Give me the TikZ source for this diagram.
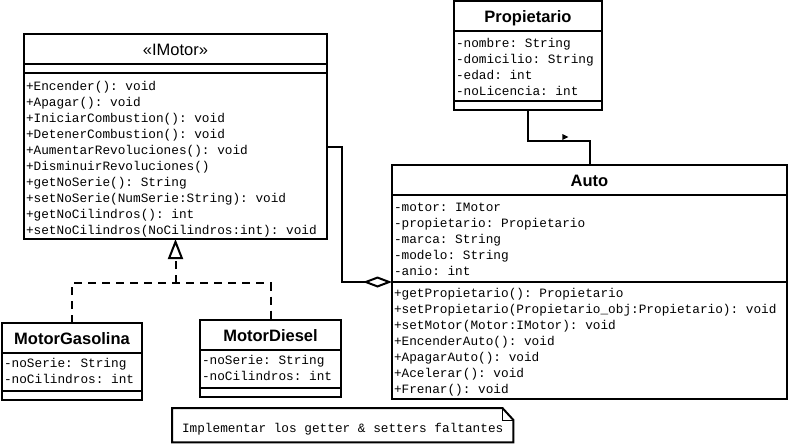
\documentclass[tikz,border=0pt]{standalone}
\usepackage{fontspec}
\setsansfont{Liberation Sans}
\setmonofont{Liberation Mono}
\usetikzlibrary{
  arrows.meta,
  calc,
  positioning,
  shapes.multipart
}
% compartments of a class box
\newcommand{\umlhead}[2]{\parbox[c][28pt][t]{#1}{\centering\sffamily\fontsize{16.5pt}{18pt}\selectfont\rule{0pt}{20.5pt}#2}}
\newcommand{\umlbody}[4][15pt]{\parbox[c][#3][t]{#2}{\ttfamily\fontsize{12.75pt}{16pt}\selectfont\raggedright\leftskip=2pt\rule{0pt}{#1}#4}}
\newcommand{\umlempty}[1]{\parbox[c][7pt]{#1}{\mbox{}}}

\begin{document}
\begin{tikzpicture}[x=1pt, y=-1pt,
  umlclass/.style={draw, line width=2pt, rectangle split, rectangle split parts=3,
               inner sep=0pt, outer sep=0pt, anchor=north west, fill=white},
  link/.style={line width=2pt},
  realize/.style={line width=2pt, dash pattern=on 8pt off 6pt},
  notetext/.style={inner sep=0pt, anchor=north west, minimum width=341pt, minimum height=34pt,
               text height=14pt, text depth=0pt, font=\ttfamily\fontsize{12.75pt}{16pt}\selectfont},
  notebox/.style={line width=2pt}
]
  \fill[white, use as bounding box] (0,0) rectangle (791,445);

  \node[umlclass] (imotor) at (24,34) {\umlhead{303pt}{«IMotor»}
    \nodepart{two}\umlempty{303pt}
    \nodepart{three}\umlbody[16pt]{303pt}{164pt}{+Encender(): void\\
      +Apagar(): void\\
      +IniciarCombustion(): void\\
      +DetenerCombustion(): void\\
      +AumentarRevoluciones(): void\\
      +DisminuirRevoluciones()\\
      +getNoSerie(): String\\
      +setNoSerie(NumSerie:String): void\\
      +getNoCilindros(): int\\
      +setNoCilindros(NoCilindros:int): void}};

  \node[umlclass] (propietario) at (454,1) {\umlhead{148pt}{\bfseries Propietario}
    \nodepart{two}\umlbody{148pt}{68pt}{-nombre: String\\
      -domicilio: String\\
      -edad: int\\
      -noLicencia: int}
    \nodepart{three}\umlempty{148pt}};

  \node[umlclass] (auto) at (392,165) {\umlhead{395pt}{\bfseries Auto}
    \nodepart{two}\umlbody[15.5pt]{395pt}{85pt}{-motor: IMotor\\
      -propietario: Propietario\\
      -marca: String\\
      -modelo: String\\
      -anio: int}
    \nodepart{three}\umlbody[14pt]{395pt}{115pt}{+getPropietario(): Propietario\\
      +setPropietario(Propietario\_obj:Propietario): void\\
      +setMotor(Motor:IMotor): void\\
      +EncenderAuto(): void\\
      +ApagarAuto(): void\\
      +Acelerar(): void\\
      +Frenar(): void}};

  \node[umlclass] (motorgasolina) at (2,323) {\umlhead{140pt}{\bfseries MotorGasolina}
    \nodepart{two}\umlbody[13.5pt]{140pt}{36pt}{-noSerie: String\\
      -noCilindros: int}
    \nodepart{three}\umlempty{140pt}};

  \node[umlclass] (motordiesel) at (200,320) {\umlhead{141pt}{\bfseries MotorDiesel}
    \nodepart{two}\umlbody[13.5pt]{141pt}{36pt}{-noSerie: String\\
      -noCilindros: int}
    \nodepart{three}\umlempty{141pt}};

  \node[notetext] (note) at (172,408) {Implementar los getter \& setters faltantes};

  % aggregation IMotor -- Auto
  \draw[link, -{Diamond[open, length=29pt, width=11pt]}] ([yshift=-10.5pt]imotor.east) -- ++(15,0) |- (auto.two split west);

  % association Propietario -- Auto
  \draw[link] (propietario.south) -- ++(0,31) -| (auto.north) coordinate[pos=0.28] (navmid);
  \fill ([yshift=1pt]navmid) -- ++(0,-6) -- ++(6,3) -- cycle;

  % realization
  \coordinate (impljoin) at ([yshift=-44pt]imotor.south);
  \draw[realize] (motorgasolina.north) |- (impljoin) -| (motordiesel.north);
  \draw[realize, -{Triangle[open, length=20pt, width=15pt]}] (impljoin) -- (imotor.south);

  % note outline
  \draw[notebox] (note.north west) -- ([xshift=-11pt]note.north east) -- ([yshift=-12pt]note.north east)
    -- (note.south east) -- (note.south west) -- cycle;
  \draw[line width=1pt] ([xshift=-11pt]note.north east) |- ([yshift=-12pt]note.north east);
\end{tikzpicture}
\end{document}
